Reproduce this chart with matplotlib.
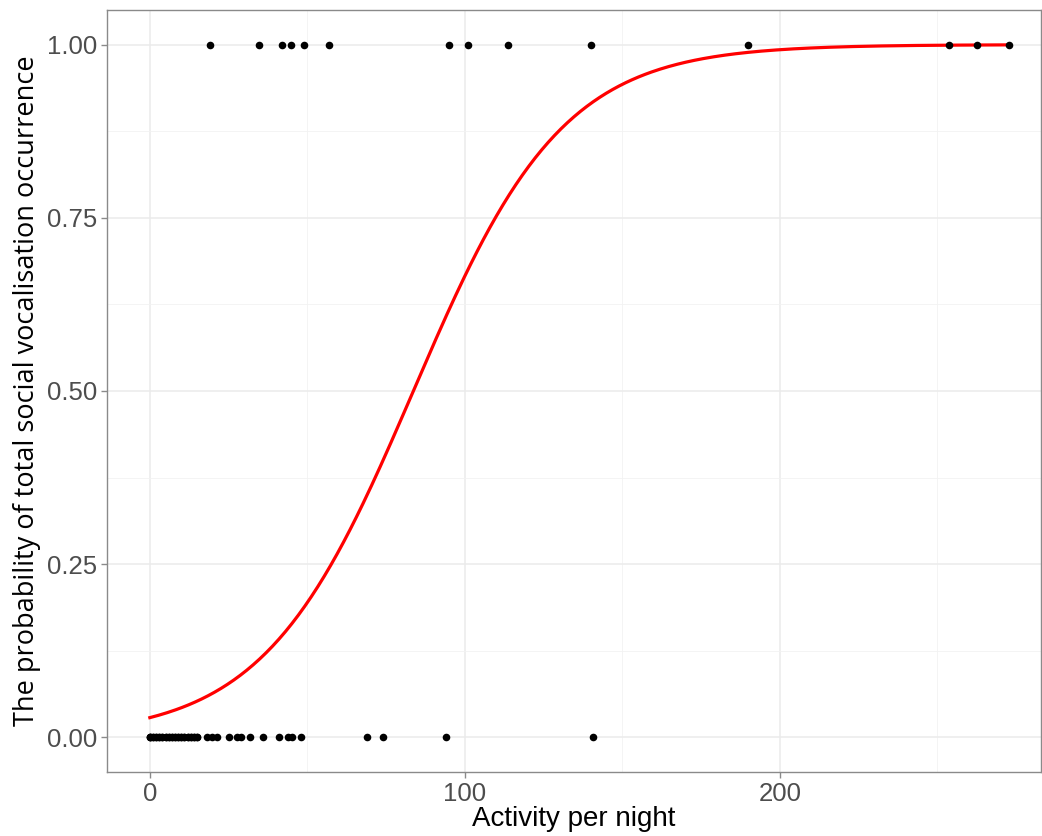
import numpy as np
import matplotlib
matplotlib.use("Agg")
import matplotlib.pyplot as plt
from matplotlib.ticker import MultipleLocator

# Nights with at least one social call (outcome = 1)
activity_present = [19, 34.8, 42, 44.9, 48.9, 57, 95, 101, 113.8, 139.9,
                    189.9, 253.7, 262.7, 272.7]
# Nights without social calls (outcome = 0)
activity_absent = [0, 0, 0, 1, 1, 2, 2, 3, 3, 4, 4, 5, 5, 6, 6, 7, 7, 8, 8,
                   9, 9, 10, 10, 11, 11, 12, 12, 13, 13, 14, 14, 15, 15,
                   18.2, 19.7, 21.3, 25, 27.7, 28.8, 31.9, 35.9, 41, 44, 45,
                   48, 69, 73.9, 94, 140.8]

# Binomial GLM coefficients (logit link)
glm_intercept = -3.53
glm_slope = 0.0422

x_ticks = [0, 100, 200]
y_ticks = [0.00, 0.25, 0.50, 0.75, 1.00]
y_tick_labels = ["0.00", "0.25", "0.50", "0.75", "1.00"]

fig = plt.figure(figsize=(10.42, 8.36), dpi=100)
ax = fig.add_axes([107 / 1042, 1 - 772 / 836, (1041 - 107) / 1042, (772 - 10) / 836])

x_all = np.array(activity_present + activity_absent, dtype=float)
y_all = np.array([1] * len(activity_present) + [0] * len(activity_absent), dtype=float)

ax.scatter(x_all, y_all, s=30, color="black", zorder=3, linewidths=0)

xs = np.linspace(x_all.min(), x_all.max(), 400)
ax.plot(xs, 1 / (1 + np.exp(-(glm_intercept + glm_slope * xs))),
        color="#FF0000", lw=2.3, zorder=2)

ax.set_xlim(-13.6, 282.9)
ax.set_ylim(-0.05, 1.05)

ax.set_xticks(x_ticks)
ax.set_yticks(y_ticks)
ax.set_yticklabels(y_tick_labels)
ax.xaxis.set_minor_locator(MultipleLocator(50))
ax.yaxis.set_minor_locator(MultipleLocator(0.125))

ax.grid(which="major", color="#EBEBEB", lw=1.1, zorder=0)
ax.grid(which="minor", color="#F2F2F2", lw=0.6, zorder=0)
ax.set_axisbelow(True)

for sp in ax.spines.values():
    sp.set_color("#8a8a8a")
    sp.set_linewidth(1.0)

ax.tick_params(which="major", length=4, width=1, color="#8a8a8a",
               labelsize=18.5, labelcolor="#4D4D4D", pad=3)
ax.tick_params(which="minor", length=0)
for lab in ax.get_xticklabels() + ax.get_yticklabels():
    lab.set_family("Liberation Sans")

ax.set_xlabel("Activity per night", fontsize=20, family="Liberation Sans",
              color="black", labelpad=0)
ax.set_ylabel("The probability of total social vocalisation occurrence",
              fontsize=19.5, family="Open Sans", color="black", labelpad=4)

fig.savefig("out.png", dpi=100, facecolor="white")
